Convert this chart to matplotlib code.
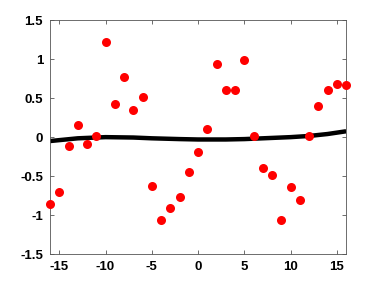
import numpy as np
import matplotlib
matplotlib.use('Agg')
import matplotlib.pyplot as plt

x = np.arange(-16, 17)
y = [-0.86, -0.70, -0.11, 0.16, -0.09, 0.01, 1.22, 0.42, 0.77, 0.35, 0.52,
     -0.62, -1.06, -0.91, -0.77, -0.45, -0.19, 0.11, 0.94, 0.60, 0.60, 0.99,
     0.01, -0.40, -0.49, -1.06, -0.64, -0.80, 0.02, 0.40, 0.60, 0.68, 0.67]

# smooth trend line
trend_x = [-16, -13, -10, -7, -5, -2, 0, 3, 5, 8, 10, 12, 14, 16]
trend_y = [-0.05, -0.015, 0.0, -0.005, -0.015, -0.025, -0.03, -0.03,
           -0.025, -0.01, 0.0, 0.015, 0.04, 0.075]

xticks = [-15, -10, -5, 0, 5, 10, 15]
yticks = [-1.5, -1, -0.5, 0, 0.5, 1, 1.5]
ylabels = ['-1.5', '-1', '-0.5', '0', '0.5', '1', '1.5']

plt.rcParams['font.family'] = ['Liberation Sans', 'DejaVu Sans']

fig = plt.figure(figsize=(3.82, 2.86), dpi=100)
ax = fig.add_axes([0.131, 0.111, 0.775, 0.819])
ax.plot(trend_x, trend_y, color='black', linewidth=3.2, zorder=2,
        solid_capstyle='butt')
ax.plot(x, y, 'o', color='red', markersize=6.5, markeredgewidth=0, zorder=3,
        clip_on=False)

ax.set_xlim(-16, 16)
ax.set_ylim(-1.5, 1.5)
ax.set_xticks(xticks)
ax.set_yticks(yticks)
ax.set_xticklabels([str(t) for t in xticks])
ax.set_yticklabels(ylabels)
ax.tick_params(direction='in', top=True, right=True, length=3, width=0.6,
               color='#555555', labelsize=9.5, pad=5)
for lab in ax.get_xticklabels() + ax.get_yticklabels():
    lab.set_fontweight('bold')
for s in ax.spines.values():
    s.set_color('#555555')
    s.set_linewidth(0.6)

plt.savefig('out.png', dpi=100)
